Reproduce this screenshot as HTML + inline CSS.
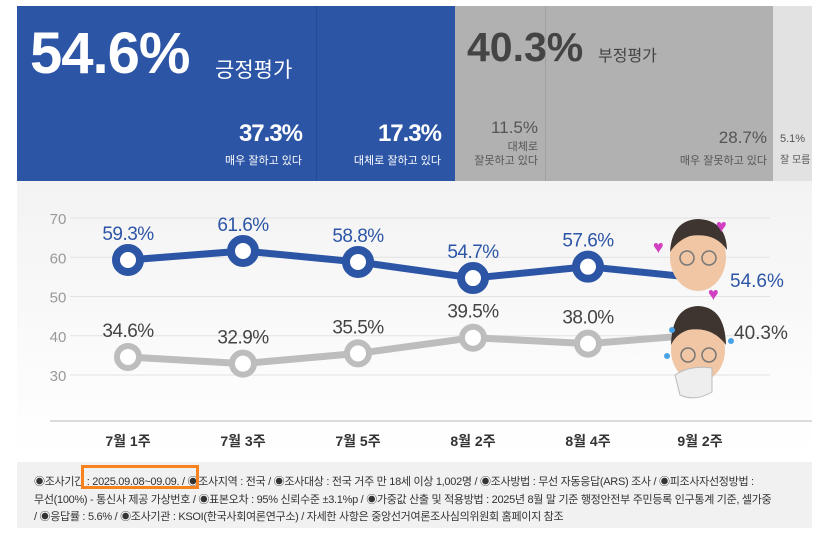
<!DOCTYPE html>
<html><head><meta charset="utf-8"><style>
body{margin:0;width:822px;height:534px;background:#fff;font-family:"Liberation Sans","Noto Sans CJK KR",sans-serif;overflow:hidden;position:relative}
.a{position:absolute}
</style></head><body>
<div class="a" style="left:17px;top:6px;width:438px;height:175px;background:#2c55a6"></div>
<div class="a" style="left:316px;top:6px;width:1px;height:175px;background:#244a95"></div>
<div class="a" style="left:455px;top:6px;width:318px;height:175px;background:#b1b1b1"></div>
<div class="a" style="left:545px;top:6px;width:1px;height:175px;background:#a0a0a0"></div>
<div class="a" style="left:773px;top:6px;width:39px;height:175px;background:#e2e2e2"></div>
<div class="a" style="left:30px;top:20px;color:#fff;font-size:58px;font-weight:bold;letter-spacing:-1px">54.6%</div>
<div class="a" style="left:215px;top:54px;color:#fff;font-size:21px">긍정평가</div>
<div class="a" style="left:467px;top:24px;color:#444;font-size:41px;font-weight:bold;letter-spacing:0px">40.3%</div>
<div class="a" style="left:598px;top:42px;color:#444;font-size:16px">부정평가</div>
<div class="a" style="right:520px;top:120px;color:#fff;text-align:right"><div style="font-size:24px;font-weight:bold;letter-spacing:-1px">37.3%</div><div style="font-size:11px;margin-top:4px">매우 잘하고 있다</div></div>
<div class="a" style="right:381px;top:120px;color:#fff;text-align:right"><div style="font-size:24px;font-weight:bold;letter-spacing:-1px">17.3%</div><div style="font-size:11px;margin-top:4px">대체로 잘하고 있다</div></div>
<div class="a" style="right:284px;top:118px;color:#555;text-align:right"><div style="font-size:17px">11.5%</div><div style="font-size:11px;margin-top:2px;line-height:14px">대체로<br>잘못하고 있다</div></div>
<div class="a" style="right:55px;top:128px;color:#555;text-align:right"><div style="font-size:17px">28.7%</div><div style="font-size:11px;margin-top:4px">매우 잘못하고 있다</div></div>
<div class="a" style="left:780px;top:133px;color:#555;font-size:11px"><div>5.1%</div><div style="margin-top:6px;font-size:10px">잘 모름</div></div>

<svg class="a" style="left:0;top:0" width="822" height="534">
<defs><linearGradient id="g" x1="0" y1="0" x2="0" y2="1"><stop offset="0" stop-color="#f3f3f3"/><stop offset="1" stop-color="#fff"/></linearGradient></defs>
<rect x="17" y="181" width="795" height="274" fill="url(#g)"/>
<g id="grid"></g><g id="lines"></g><g id="xl"></g>
<g>
<ellipse cx="698" cy="257" rx="28" ry="34" fill="#f0c6a4"/><path d="M670 252 Q672 220 698 219 Q726 220 727 250 Q715 232 690 236 Q678 240 670 252Z" fill="#3f3530"/>
<circle cx="687" cy="258" r="7" fill="none" stroke="#777" stroke-width="1.5"/><circle cx="709" cy="258" r="7" fill="none" stroke="#777" stroke-width="1.5"/>
<text x="716" y="232" font-size="18" fill="#d040c0">♥</text><text x="653" y="253" font-size="18" fill="#d040c0">♥</text><text x="708" y="300" font-size="18" fill="#d040c0">♥</text></g>
<g>
<ellipse cx="698" cy="350" rx="27" ry="32" fill="#f0c6a4"/><path d="M671 345 Q672 307 698 306 Q725 307 726 345 Q712 326 688 330 Q676 334 671 345Z" fill="#3f3530"/>
<circle cx="688" cy="355" r="7" fill="none" stroke="#777" stroke-width="1.5"/><circle cx="709" cy="355" r="7" fill="none" stroke="#777" stroke-width="1.5"/>
<path d="M675 375 Q690 365 712 368 L712 392 Q695 402 680 395Z" fill="#eee" stroke="#bbb"/>
<circle cx="672" cy="330" r="3" fill="#4aa3e6"/><circle cx="731" cy="341" r="3" fill="#4aa3e6"/><circle cx="667" cy="356" r="3" fill="#4aa3e6"/></g>
<text x="730" y="287" font-size="19" fill="#2c55a6">54.6%</text>
<text x="734" y="339" font-size="19" fill="#444">40.3%</text>
</svg>

<div class="a" style="left:17px;top:462px;width:795px;height:66px;background:#f1f1f1"></div>
<div class="a" style="left:34px;top:474px;white-space:nowrap;font-size:11px;line-height:17.5px;color:#333;letter-spacing:-0.3px">◉조사기간 : 2025.09.08~09.09. / ◉조사지역 : 전국 / ◉조사대상 : 전국 거주 만 18세 이상 1,002명 / ◉조사방법 : 무선 자동응답(ARS) 조사 / ◉피조사자선정방법 :<br>무선(100%) - 통신사 제공 가상번호 / ◉표본오차 : 95% 신뢰수준 ±3.1%p / ◉가중값 산출 및 적용방법 : 2025년 8월 말 기준 행정안전부 주민등록 인구통계 기준, 셀가중<br>/ ◉응답률 : 5.6% / ◉조사기관 : KSOI(한국사회여론연구소) / 자세한 사항은 중앙선거여론조사심의위원회 홈페이지 참조</div>
<div class="a" style="left:81px;top:465px;width:118px;height:24px;border:3px solid #f7821e;box-sizing:border-box"></div>

<script>
const categories=["7월 1주","7월 3주","7월 5주","8월 2주","8월 4주","9월 2주"];
const positive=[59.3,61.6,58.8,54.7,57.6,54.6];
const negative=[34.6,32.9,35.5,39.5,38.0,40.3];
const yTicks=[70,60,50,40,30];
const NS="http://www.w3.org/2000/svg";
const xs=i=>128+i*115;
const y=v=>218+(70-v)*3.925;
function mk(t,a,p){const e=document.createElementNS(NS,t);for(const k in a)e.setAttribute(k,a[k]);p.appendChild(e);return e;}
const grid=document.getElementById('grid'),lines=document.getElementById('lines'),xl=document.getElementById('xl');
yTicks.forEach(v=>{
 const l=mk('line',{x1:70,x2:770,y1:y(v),y2:y(v),stroke:'#e2e2e2'},grid);
 
 
 const t=mk('text',{x:58,y:y(v)+6,'text-anchor':'middle','font-size':15,fill:'#999'},grid);t.textContent=v;
 
 
});
const ax=mk('line',{x1:50,x2:812,y1:421,y2:421,stroke:'#bbb'},grid);


function series(vals,color,tc,name){
 const pts=vals.map((v,i)=>xs(i)+','+y(v)).join(' ');
 const pl=mk('polyline',{points:pts,fill:'none',stroke:color,'stroke-width':7,'stroke-linejoin':'round'},lines);
 
 
 vals.forEach((v,i)=>{
  if(i===vals.length-1)return;
  const c=mk('circle',{cx:xs(i),cy:y(v),r:name==='positive'?12:11,fill:'#fff',stroke:color,'stroke-width':name==='positive'?8:6},lines);
  
  
  const t=mk('text',{x:xs(i),y:y(v)-20,'text-anchor':'middle','font-size':19,fill:tc,'letter-spacing':'-0.5'},lines);t.textContent=v.toFixed(1)+'%';
  
  
 });
}
series(positive,'#2c55a6','#2c55a6','positive');
series(negative,'#bdbdbd','#444','negative');
categories.forEach((c,i)=>{
 const t=mk('text',{x:xs(i)+(i===5?-3:0),y:446,'text-anchor':'middle','font-size':14,'font-weight':'bold',fill:'#333'},xl);t.textContent=c;
 
 
});
</script>
</body></html>
